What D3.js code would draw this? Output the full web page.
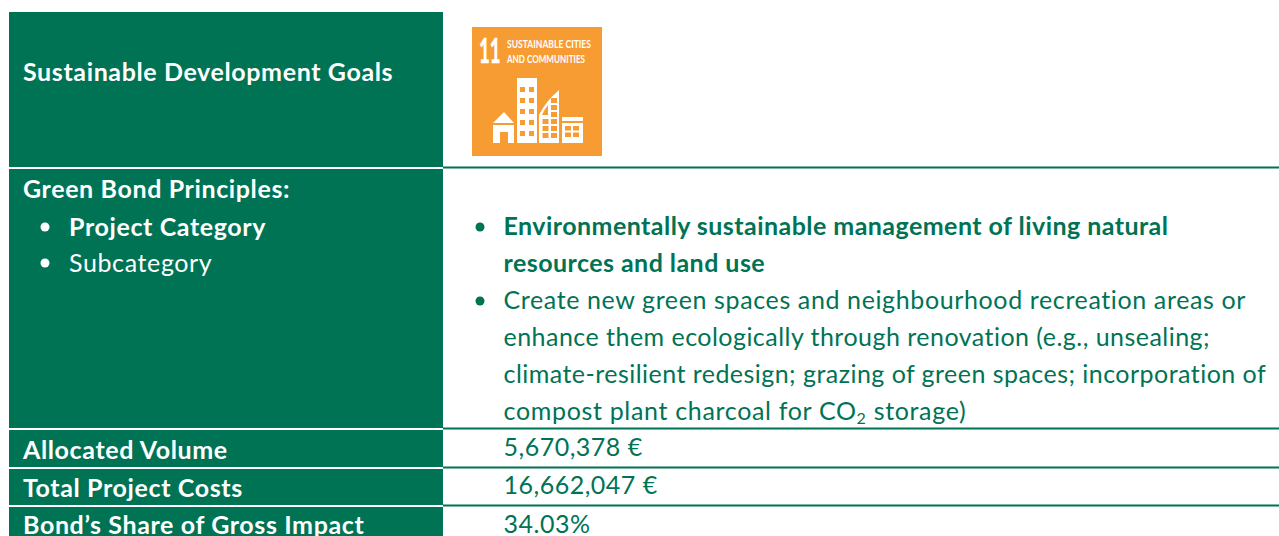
<!DOCTYPE html>
<html>
<head>
<meta charset="utf-8">
<script src="https://cdn.jsdelivr.net/npm/d3@7"></script>
<style>
html, body { margin: 0; padding: 0; background: #fff; overflow: hidden; }
text { font-family: Lato, sans-serif; }
</style>
</head>
<body>
<script>
const rowEdges = [12, 168, 429, 468, 506, 560];
const leftLabels = ["Sustainable Development Goals", "Green Bond Principles:", "Allocated Volume", "Total Project Costs", "Bond\u2019s Share of Gross Impact"];
const leftLabelY = [81, 198, 459, 497, 534];
const leftBullets = [["Project Category", 700, 236], ["Subcategory", 400, 272]];
const rightBold = ["Environmentally sustainable management of living natural", "resources and land use"];
const rightPlain = [
	"Create new green spaces and neighbourhood recreation areas or",
	"enhance them ecologically through renovation (e.g., unsealing;",
	"climate-resilient redesign; grazing of green spaces; incorporation of"
];
const plainSpacing = [0.62, 0.47, 0.46];
const values = ["5,670,378 \u20ac", "16,662,047 \u20ac", "34.03%"];
const valueY = [456, 494, 533];

const green = "#007355";
const orange = "#f79c32";

const svg = d3.select("body").append("svg")
	.attr("width", 1279)
	.attr("height", 536);

// left column blocks, white gap between the rows
svg.append("g").selectAll("rect")
	.data(d3.pairs(rowEdges))
	.enter()
	.append("rect")
	.attr("x", 9)
	.attr("y", d => d[0] + (d[0] === 12 ? 0 : 1))
	.attr("width", 434)
	.attr("height", d => d[1] - d[0] - (d[0] === 12 ? 1 : 2))
	.attr("fill", green);

// rules on the right side
svg.append("g").selectAll("line")
	.data(rowEdges.slice(1, 5))
	.enter()
	.append("line")
	.attr("x1", 443)
	.attr("x2", 1279)
	.attr("y1", d => d - 0.5)
	.attr("y2", d => d - 0.5)
	.attr("stroke", green)
	.attr("stroke-width", 2);

svg.append("g").selectAll("text")
	.data(leftLabels)
	.enter()
	.append("text")
	.attr("x", 23)
	.attr("y", (d, i) => leftLabelY[i])
	.attr("fill", "#fff")
	.attr("font-size", 25)
	.attr("font-weight", 700)
	.attr("letter-spacing", 0.62)
	.text(d => d);

const bullets = svg.append("g").selectAll("g")
	.data(leftBullets)
	.enter()
	.append("g");
bullets.append("circle")
	.attr("cx", 45)
	.attr("cy", d => d[2] - 9)
	.attr("r", 4.5)
	.attr("fill", "#fff");
bullets.append("text")
	.attr("x", 69)
	.attr("y", d => d[2])
	.attr("fill", "#fff")
	.attr("font-size", 25)
	.attr("font-weight", d => d[1])
	.attr("letter-spacing", 0.62)
	.text(d => d[0]);

// right column text
const right = svg.append("g").attr("fill", green).attr("font-size", 25);
right.append("circle").attr("cx", 480).attr("cy", 227).attr("r", 4.5);
right.append("circle").attr("cx", 480).attr("cy", 301).attr("r", 4.5);
right.selectAll("text.bold")
	.data(rightBold)
	.enter()
	.append("text")
	.attr("class", "bold")
	.attr("x", 503.5)
	.attr("y", (d, i) => 235 + i * 37)
	.attr("font-weight", 700)
	.attr("letter-spacing", 0.45)
	.text(d => d);
right.selectAll("text.plain")
	.data(rightPlain)
	.enter()
	.append("text")
	.attr("class", "plain")
	.attr("x", 503.5)
	.attr("y", (d, i) => 309 + i * 37)
	.attr("letter-spacing", (d, i) => plainSpacing[i])
	.text(d => d);

const co2 = right.append("text").attr("x", 503.5).attr("y", 420).attr("letter-spacing", 0.67);
co2.append("tspan").text("compost plant charcoal for CO");
co2.append("tspan").attr("font-size", 16).attr("dy", 4).text("2");
co2.append("tspan").attr("dy", -4).text(" storage)");

right.selectAll("text.value")
	.data(values)
	.enter()
	.append("text")
	.attr("class", "value")
	.attr("x", 503.5)
	.attr("y", (d, i) => valueY[i])
	.attr("letter-spacing", 0.5)
	.text(d => d);

// SDG 11 icon
const icon = svg.append("g").attr("transform", "translate(472,27)");
icon.append("rect").attr("width", 130).attr("height", 129).attr("fill", orange);
// squeezed with a transform so the box of the number stays clear of the title
icon.append("text").attr("transform", "translate(7,36) scale(0.55,1)").attr("fill", "#fff")
	.attr("font-family", "Roboto, sans-serif")
	.attr("font-size", 34).attr("font-weight", 700)
	.attr("stroke", "#fff").attr("stroke-width", 0.6)
	.text("11");
[["SUSTAINABLE CITIES", 21, 84], ["AND COMMUNITIES", 36, 78]].forEach(([t, y, len]) => {
	icon.append("text").attr("x", 35).attr("y", y).attr("fill", "#fff")
		.attr("font-family", "Roboto, sans-serif")
		.attr("font-size", 12).attr("font-weight", 700)
		.attr("textLength", len).attr("lengthAdjust", "spacingAndGlyphs").text(t);
});
const w = icon.append("g").attr("fill", "#fff");
const cells = icon.append("g").attr("fill", orange);
// house
w.append("path").attr("d", "M21 96 L32 85 L42 96 Z");
w.append("path").attr("d", "M21 98 H42 V116 H36 V105 H28 V116 H21 Z");
// tower
w.append("rect").attr("x", 45).attr("y", 51).attr("width", 20).attr("height", 65);
d3.range(5).forEach(r => d3.range(2).forEach(c => {
	cells.append("rect").attr("x", 48 + c * 9).attr("y", 60 + r * 11).attr("width", 5).attr("height", 5);
}));
// slanted building
w.append("path").attr("d", "M67 116 V88 Q74 74 87 63 V116 Z");
d3.range(6).forEach(r => {
	cells.append("rect").attr("x", 79).attr("y", 71 + r * 7).attr("width", 6).attr("height", 5);
	if (r > 2) cells.append("rect").attr("x", 70.5).attr("y", 71 + r * 7).attr("width", 6).attr("height", 5);
});
cells.append("path").attr("d", "M70 88 Q72 83 76 78 V88 Z");
// low block
w.append("rect").attr("x", 90).attr("y", 90).attr("width", 21).attr("height", 26);
cells.append("rect").attr("x", 90).attr("y", 94).attr("width", 21).attr("height", 2);
d3.range(2).forEach(r => d3.range(2).forEach(c => {
	cells.append("rect").attr("x", 93 + c * 8).attr("y", 99 + r * 6.5).attr("width", 6).attr("height", 4.5);
}));
</script>
</body>
</html>
